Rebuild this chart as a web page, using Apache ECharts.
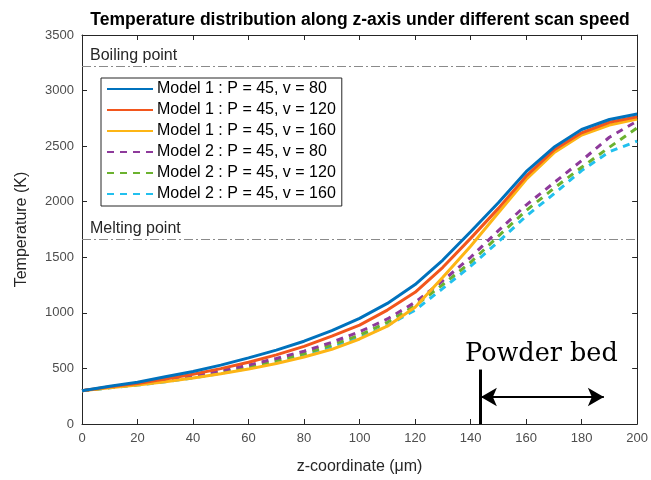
<!DOCTYPE html>
<html>
<head>
<meta charset="utf-8">
<script src="https://cdn.jsdelivr.net/npm/echarts@6/dist/echarts.min.js"></script>
<style>html,body{margin:0;padding:0;background:#fff}#c{width:651px;height:480px}</style>
</head>
<body>
<div id="c"></div>
<script>
var zCoords = [0,10,20,30,40,50,60,70,80,90,100,110,120,130,140,150,160,170,180,190,200];
var m1v80  = [300,340,375,425,472,530,595,665,745,840,950,1085,1255,1475,1730,1990,2270,2490,2650,2740,2790];
var m1v120 = [300,335,365,405,448,498,555,622,698,790,890,1025,1185,1410,1670,1940,2230,2465,2620,2715,2765];
var m1v160 = [300,325,350,380,413,452,494,545,603,672,765,880,1050,1320,1600,1900,2200,2440,2600,2690,2745];
var m2v80  = [300,330,360,395,435,480,530,590,655,735,830,945,1095,1290,1500,1740,1970,2170,2370,2580,2725];
var m2v120 = [300,328,355,388,425,468,515,570,632,710,800,915,1065,1255,1455,1690,1920,2120,2310,2490,2665];
var m2v160 = [300,325,350,380,415,455,500,553,612,690,775,885,1025,1220,1420,1640,1870,2070,2280,2450,2545];
var seriesNames = ['Model 1 : P = 45, v = 80','Model 1 : P = 45, v = 120','Model 1 : P = 45, v = 160',
                   'Model 2 : P = 45, v = 80','Model 2 : P = 45, v = 120','Model 2 : P = 45, v = 160'];
var seriesData = [m1v80, m1v120, m1v160, m2v80, m2v120, m2v160];
var seriesColors = ['#0072BD','#F2561D','#FDB515','#8E3A9B','#6BB22F','#22C0EE'];
var seriesDash = ['solid','solid','solid',[7,6],[7,6],[7,6]];
var boilingPoint = 3220;
var meltingPoint = 1660;
var powderBedStart = 143.3;
var powderBedArrowEnd = 188;

var font = 'Liberation Sans, Arial, sans-serif';
var chart = echarts.init(document.getElementById('c'), null, {renderer:'canvas'});

function pairs(d){ return zCoords.map(function(z,i){return [z,d[i]];}); }

var series = seriesNames.map(function(n,i){
  return {
    name:n, type:'line', data:pairs(seriesData[i]), symbol:'none', smooth:false,
    lineStyle:{color:seriesColors[i], width:3, type:seriesDash[i]},
    itemStyle:{color:seriesColors[i]}, z: 10 - i
  };
});

var refLabel = {show:true,position:'insideStartTop',color:'#262626',fontSize:16,fontFamily:font,padding:[0,0,0,5],distance:3};
series.push({
  name:'annot', type:'line', data:[], symbol:'none', silent:true,
  markLine:{
    silent:true, symbol:['none','none'], animation:false,
    data:[
      [{coord:[0,boilingPoint], lineStyle:{color:'#8a8a8a',width:1.2,type:[9,3,2,3]},
        label:Object.assign({formatter:'Boiling point'},refLabel)},
       {coord:[200,boilingPoint]}],
      [{coord:[0,meltingPoint], lineStyle:{color:'#8a8a8a',width:1.2,type:[9,3,2,3]},
        label:Object.assign({formatter:'Melting point'},refLabel)},
       {coord:[200,meltingPoint]}],
      [{coord:[powderBedStart,0], lineStyle:{color:'#000',width:3,type:'solid'}, label:{show:false}},
       {coord:[powderBedStart,490]}]
    ]
  }
});
series.push({
  name:'arrow', type:'line', data:[], symbol:'none', silent:true,
  markLine:{
    silent:true, symbol:['arrow','arrow'], symbolSize:[14,16], animation:false,
    lineStyle:{color:'#000',width:2,type:'solid'}, label:{show:false},
    data:[[{coord:[powderBedStart+0.4,243]},{coord:[powderBedArrowEnd,243]}]]
  },
  markPoint:{
    silent:true, symbol:'circle', symbolSize:0, animation:false,
    data:[{coord:[165.5,630], label:{show:true,formatter:'Powder bed',color:'#000',fontSize:25.5,fontFamily:'DejaVu Serif, Liberation Serif, serif',position:'inside'}}]
  }
});

var axisLine = {show:true, onZero:false, lineStyle:{color:'#262626', width:1}};
var tick = {show:true, inside:true, length:5, lineStyle:{color:'#262626'}};
function plain(v){ return String(v); }
chart.setOption({
  animation:false,
  backgroundColor:'#fff',
  title:{text:'Temperature distribution along z-axis under different scan speed', left:355, top:6, textAlign:'center',
    textStyle:{fontFamily:font, fontSize:17.5, fontWeight:'bold', color:'#000'}},
  grid:{left:82, right:12, top:35, bottom:56, containLabel:false},
  legend:{
    data:seriesNames, orient:'vertical', left:101, top:78,
    itemWidth:46, itemHeight:16, itemGap:5, padding:[3,6,4,5],
    borderColor:'#262626', borderWidth:1, backgroundColor:'#fff',
    itemStyle:{opacity:0},
    textStyle:{fontFamily:font, fontSize:16, color:'#000', padding:[0,0,0,-1]},
    selectedMode:false
  },
  xAxis:[
    {type:'value', min:0, max:200, interval:20, position:'bottom',
     name:'z-coordinate (\u03bcm)', nameLocation:'middle', nameGap:35,
     nameTextStyle:{fontFamily:font, fontSize:16, color:'#262626'},
     axisLine:axisLine, axisTick:tick,
     axisLabel:{fontFamily:font, fontSize:13, color:'#4d4d4d', margin:8, formatter:plain}, splitLine:{show:false}},
    {type:'value', min:0, max:200, interval:20, position:'top',
     axisLine:axisLine, axisTick:tick,
     axisLabel:{show:false}, splitLine:{show:false}}
  ],
  yAxis:[
    {type:'value', min:0, max:3500, interval:500, position:'left',
     name:'Temperature (K)', nameLocation:'middle', nameGap:52,
     nameTextStyle:{fontFamily:font, fontSize:16, color:'#262626'},
     axisLine:axisLine, axisTick:tick,
     axisLabel:{fontFamily:font, fontSize:13, color:'#4d4d4d', margin:8, formatter:plain}, splitLine:{show:false}},
    {type:'value', min:0, max:3500, interval:500, position:'right',
     axisLine:axisLine, axisTick:tick,
     axisLabel:{show:false}, splitLine:{show:false}}
  ],
  series:series
});
</script>
</body>
</html>
